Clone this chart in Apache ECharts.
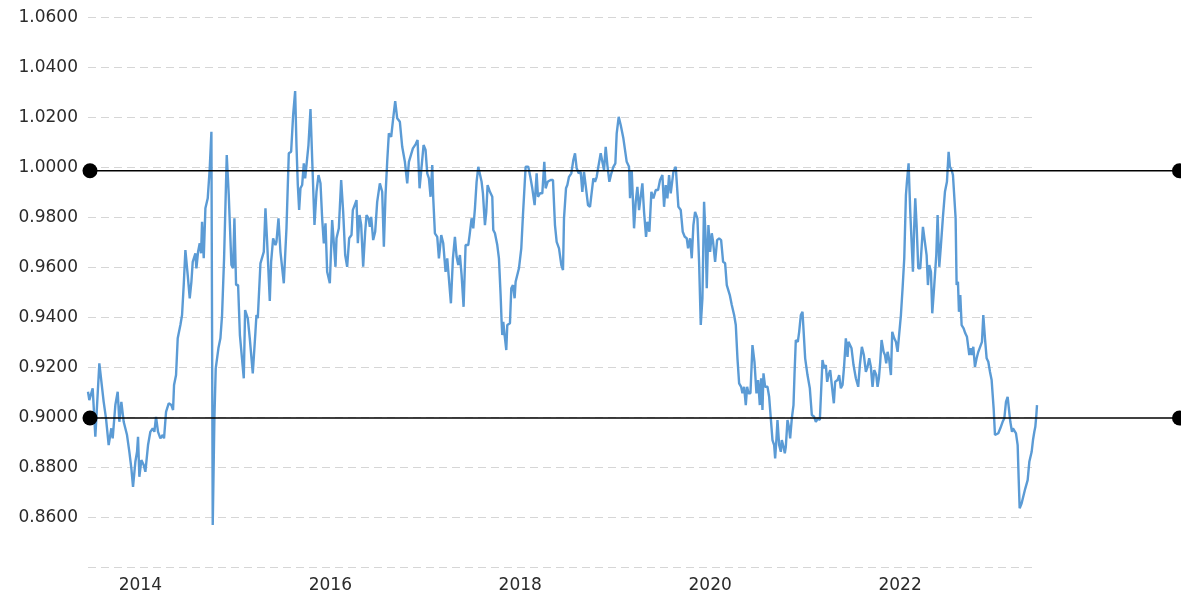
<!DOCTYPE html>
<html>
<head>
<meta charset="utf-8">
<script src="https://cdn.jsdelivr.net/npm/echarts@6.0.0/dist/echarts.min.js"></script>
<style>
  html, body { margin: 0; padding: 0; background: #ffffff; }
  #chart { width: 1181px; height: 598px; }
</style>
</head>
<body>
<div id="chart"></div>
<script>
// Time (decimal years) of each observation
const years = [
  2013.4485, 2013.4625, 2013.4977, 2013.5258, 2013.5679, 2013.6136, 2013.6381, 2013.6662, 2013.6943, 2013.7084,
  2013.7365, 2013.7611, 2013.7786, 2013.7997, 2013.8243, 2013.8594, 2013.8840, 2013.9051, 2013.9226, 2013.9472,
  2013.9648, 2013.9753, 2013.9893, 2014.0104, 2014.0350, 2014.0526, 2014.0807, 2014.1052, 2014.1298, 2014.1474,
  2014.1649, 2014.1860, 2014.2106, 2014.2352, 2014.2492, 2014.2703, 2014.2984, 2014.3265, 2014.3441, 2014.3546,
  2014.3757, 2014.3932, 2014.4213, 2014.4389, 2014.4564, 2014.4740, 2014.4986, 2014.5197, 2014.5372, 2014.5513,
  2014.5794, 2014.5899, 2014.6075, 2014.6250, 2014.6391, 2014.6496, 2014.6672, 2014.6847, 2014.7093, 2014.7304,
  2014.7479, 2014.7620, 2014.7795, 2014.7936, 2014.8217, 2014.8428, 2014.8603, 2014.8814, 2014.9095, 2014.9306,
  2014.9587, 2014.9762, 2014.9903, 2015.0078, 2015.0289, 2015.0480, 2015.0888, 2015.1029, 2015.1310, 2015.1520,
  2015.1836, 2015.2117, 2015.2223, 2015.2363, 2015.2644, 2015.2995, 2015.3171, 2015.3347, 2015.3628, 2015.3768,
  2015.3979, 2015.4225, 2015.4330, 2015.4541, 2015.4751, 2015.5103, 2015.5384, 2015.5629, 2015.5875, 2015.6086,
  2015.6297, 2015.6437, 2015.6578, 2015.6718, 2015.6859, 2015.7034, 2015.7210, 2015.7350, 2015.7491, 2015.7701,
  2015.7912, 2015.8088, 2015.8334, 2015.8544, 2015.8755, 2015.8966, 2015.9141, 2015.9317, 2015.9493, 2015.9668,
  2015.9949, 2016.0195, 2016.0371, 2016.0546, 2016.0652, 2016.0897, 2016.1143, 2016.1354, 2016.1565, 2016.1775,
  2016.1986, 2016.2232, 2016.2372, 2016.2548, 2016.2759, 2016.2899, 2016.3075, 2016.3250, 2016.3461, 2016.3672,
  2016.3812, 2016.4023, 2016.4164, 2016.4304, 2016.4515, 2016.4725, 2016.4936, 2016.5217, 2016.5463, 2016.5639,
  2016.5814, 2016.5990, 2016.6165, 2016.6411, 2016.6622, 2016.6833, 2016.7044, 2016.7324, 2016.7572, 2016.7853,
  2016.8099, 2016.8275, 2016.8450, 2016.8696, 2016.8977, 2016.9188, 2016.9399, 2016.9609, 2016.9820, 2017.0031,
  2017.0206, 2017.0382, 2017.0558, 2017.0733, 2017.0839, 2017.1014, 2017.1260, 2017.1436, 2017.1681, 2017.1892,
  2017.2138, 2017.2314, 2017.2489, 2017.2700, 2017.2911, 2017.3121, 2017.3297, 2017.3473, 2017.3648, 2017.3824,
  2017.4034, 2017.4245, 2017.4526, 2017.4667, 2017.4877, 2017.5053, 2017.5229, 2017.5404, 2017.5580, 2017.5720,
  2017.5931, 2017.6071, 2017.6282, 2017.6423, 2017.6563, 2017.6809, 2017.7055, 2017.7160, 2017.7336, 2017.7582,
  2017.7757, 2017.7933, 2017.8038, 2017.8108, 2017.8214, 2017.8354, 2017.8530, 2017.8635, 2017.8916, 2017.9057,
  2017.9232, 2017.9408, 2017.9513, 2017.9864, 2018.0110, 2018.0286, 2018.0461, 2018.0567, 2018.0848, 2018.1058,
  2018.1269, 2018.1515, 2018.1726, 2018.1866, 2018.2077, 2018.2323, 2018.2534, 2018.2674, 2018.2885, 2018.3201,
  2018.3447, 2018.3657, 2018.3835, 2018.4081, 2018.4327, 2018.4502, 2018.4608, 2018.4819, 2018.4959, 2018.5135,
  2018.5380, 2018.5591, 2018.5767, 2018.5942, 2018.6153, 2018.6364, 2018.6539, 2018.6715, 2018.6926, 2018.7136,
  2018.7347, 2018.7523, 2018.7698, 2018.7874, 2018.8050, 2018.8225, 2018.8471, 2018.8647, 2018.8822, 2018.8998,
  2018.9173, 2018.9384, 2018.9595, 2018.9806, 2019.0016, 2019.0157, 2019.0367, 2019.0578, 2019.0859, 2019.1000,
  2019.1210, 2019.1456, 2019.1562, 2019.1737, 2019.1983, 2019.2159, 2019.2334, 2019.2510, 2019.2685, 2019.2861,
  2019.3037, 2019.3247, 2019.3388, 2019.3599, 2019.3809, 2019.4020, 2019.4266, 2019.4512, 2019.4722, 2019.4968,
  2019.5144, 2019.5319, 2019.5495, 2019.5671, 2019.5846, 2019.6127, 2019.6373, 2019.6654, 2019.6900, 2019.7111,
  2019.7321, 2019.7532, 2019.7672, 2019.7883, 2019.8059, 2019.8234, 2019.8410, 2019.8656, 2019.8831, 2019.9007,
  2019.9183, 2019.9358, 2019.9534, 2019.9639, 2019.9815, 2019.9990, 2020.0028, 2020.0168, 2020.0309, 2020.0519,
  2020.0730, 2020.0941, 2020.1152, 2020.1362, 2020.1573, 2020.1749, 2020.1924, 2020.2065, 2020.2275, 2020.2521,
  2020.2697, 2020.2872, 2020.3048, 2020.3259, 2020.3399, 2020.3575, 2020.3750, 2020.3891, 2020.4031, 2020.4242,
  2020.4453, 2020.4664, 2020.4874, 2020.5050, 2020.5225, 2020.5366, 2020.5506, 2020.5612, 2020.5787, 2020.6033,
  2020.6209, 2020.6384, 2020.6560, 2020.6736, 2020.6841, 2020.6981, 2020.7087, 2020.7262, 2020.7438, 2020.7543,
  2020.7719, 2020.7859, 2020.7965, 2020.8140, 2020.8316, 2020.8421, 2020.8597, 2020.8773, 2020.8878, 2020.9018,
  2020.9229, 2020.9370, 2020.9545, 2020.9721, 2020.9861, 2021.0002, 2021.0248, 2021.0493, 2021.0704, 2021.0950,
  2021.1126, 2021.1336, 2021.1547, 2021.1688, 2021.1828, 2021.2004, 2021.2179, 2021.2320, 2021.2460, 2021.2636,
  2021.2811, 2021.3022, 2021.3163, 2021.3408, 2021.3584, 2021.3760, 2021.3935, 2021.4111, 2021.4286, 2021.4462,
  2021.4567, 2021.4708, 2021.4883, 2021.5094, 2021.5340, 2021.5586, 2021.5761, 2021.5972, 2021.6183, 2021.6394,
  2021.6569, 2021.6745, 2021.6920, 2021.7096, 2021.7272, 2021.7486, 2021.7626, 2021.7767, 2021.7907, 2021.8048,
  2021.8259, 2021.8399, 2021.8540, 2021.8680, 2021.8856, 2021.9031, 2021.9172, 2021.9382, 2021.9558, 2021.9734,
  2021.9909, 2022.0085, 2022.0260, 2022.0436, 2022.0612, 2022.0717, 2022.0893, 2022.1068, 2022.1209, 2022.1349,
  2022.1490, 2022.1595, 2022.1735, 2022.1911, 2022.2122, 2022.2262, 2022.2403, 2022.2613, 2022.2789, 2022.2930,
  2022.3070, 2022.3246, 2022.3386, 2022.3597, 2022.3808, 2022.3948, 2022.4124, 2022.4299, 2022.4510, 2022.4721,
  2022.4931, 2022.5107, 2022.5247, 2022.5423, 2022.5564, 2022.5704, 2022.5844, 2022.5950, 2022.6090, 2022.6196,
  2022.6336, 2022.6477, 2022.6687, 2022.6863, 2022.7039, 2022.7109, 2022.7284, 2022.7425, 2022.7565, 2022.7706,
  2022.7881, 2022.8057, 2022.8233, 2022.8443, 2022.8619, 2022.8759, 2022.8935, 2022.9111, 2022.9286, 2022.9462,
  2022.9637, 2022.9848, 2022.9989, 2023.0164, 2023.0340, 2023.0551, 2023.0796, 2023.0972, 2023.1148, 2023.1323,
  2023.1464, 2023.1604, 2023.1780, 2023.1885, 2023.2061, 2023.2201, 2023.2377, 2023.2482, 2023.2588, 2023.2798,
  2023.3009, 2023.3185, 2023.3430, 2023.3606, 2023.3852, 2023.3992, 2023.4133, 2023.4238, 2023.4344, 2023.4414
];

// Exchange rate values
const rate = [
  0.9102, 0.9069, 0.9116, 0.8922, 0.9216, 0.9062, 0.8996, 0.8889, 0.8956, 0.8916,
  0.9049, 0.9102, 0.8982, 0.9062, 0.8982, 0.8929, 0.8862, 0.8796, 0.8722, 0.8822,
  0.8862, 0.8922, 0.8762, 0.8829, 0.8809, 0.8782, 0.8889, 0.8942, 0.8956, 0.8942,
  0.9002, 0.8942, 0.8916, 0.8929, 0.8916, 0.9022, 0.9056, 0.9049, 0.9029, 0.9129,
  0.9169, 0.9316, 0.9369, 0.9409, 0.9529, 0.9669, 0.9569, 0.9476, 0.9542, 0.9622,
  0.9656, 0.9596, 0.9662, 0.9696, 0.9656, 0.9782, 0.9636, 0.9836, 0.9876, 0.9996,
  1.0142, 0.8569, 0.8996, 0.9196, 0.9276, 0.9316, 0.9409, 0.9636, 1.0049, 0.9889,
  0.9609, 0.9596, 0.9796, 0.9529, 0.9529, 0.9329, 0.9156, 0.9429, 0.9396, 0.9316,
  0.9176, 0.9342, 0.9409, 0.9396, 0.9616, 0.9662, 0.9836, 0.9702, 0.9465, 0.9622,
  0.9716, 0.9689, 0.9702, 0.9796, 0.9662, 0.9536, 0.9756, 1.0056, 1.0062, 1.0209,
  1.0305, 1.0089, 0.9929, 0.9829, 0.9916, 0.9929, 1.0016, 0.9956, 1.0009, 1.0089,
  1.0233, 1.0036, 0.9769, 0.9902, 0.9969, 0.9936, 0.9796, 0.9696, 0.9776, 0.9582,
  0.9536, 0.9789, 0.9696, 0.9602, 0.9716, 0.9756, 0.9949, 0.9822, 0.9649, 0.9602,
  0.9716, 0.9729, 0.9829, 0.9836, 0.9869, 0.9696, 0.9809, 0.9769, 0.9602, 0.9742,
  0.9809, 0.9796, 0.9762, 0.9802, 0.9709, 0.9742, 0.9862, 0.9936, 0.9902, 0.9682,
  0.9889, 1.0022, 1.0136, 1.0122, 1.0196, 1.0265, 1.0196, 1.0182, 1.0082, 1.0022,
  0.9936, 1.0022, 1.0029, 1.0076, 1.0092, 1.0109, 0.9916, 1.0002, 1.0089, 1.0069,
  0.9976, 0.9956, 0.9882, 1.0009, 0.9876, 0.9736, 0.9722, 0.9636, 0.9729, 0.9696,
  0.9582, 0.9636, 0.9629, 0.9456, 0.9636, 0.9722, 0.9642, 0.9609, 0.9649, 0.9569,
  0.9442, 0.9689, 0.9689, 0.9729, 0.9796, 0.9756, 0.9836, 0.9942, 1.0002, 1.0009,
  0.9942, 0.9896, 0.9769, 0.9822, 0.9929, 0.9902, 0.9882, 0.9749, 0.9736, 0.9689,
  0.9636, 0.9489, 0.9382, 0.9329, 0.9382, 0.9329, 0.9269, 0.9369, 0.9376, 0.9516,
  0.9529, 0.9476, 0.9542, 0.9596, 0.9676, 0.9809, 0.9929, 1.0002, 1.0002, 0.9962,
  0.9916, 0.9849, 0.9976, 0.9882, 0.9896, 0.9896, 1.0022, 0.9916, 0.9942, 0.9949,
  0.9949, 0.9769, 0.9702, 0.9676, 0.9609, 0.9589, 0.9796, 0.9916, 0.9929, 0.9962,
  0.9976, 1.0029, 1.0056, 0.9996, 0.9976, 0.9982, 0.9902, 0.9982, 0.9916, 0.9849,
  0.9842, 0.9849, 0.9956, 0.9942, 0.9962, 1.0002, 1.0056, 1.0022, 0.9989, 1.0082,
  1.0009, 0.9942, 0.9976, 1.0002, 1.0016, 1.0136, 1.0202, 1.0169, 1.0116, 1.0109,
  1.0022, 1.0002, 0.9876, 0.9989, 0.9756, 0.9862, 0.9922, 0.9829, 0.9829, 0.9936,
  0.9822, 0.9722, 0.9782, 0.9742, 0.9902, 0.9876, 0.9909, 0.9909, 0.9949, 0.9969,
  0.9842, 0.9929, 0.9876, 0.9969, 0.9896, 0.9982, 1.0002, 0.9842, 0.9829, 0.9742,
  0.9722, 0.9716, 0.9676, 0.9716, 0.9636, 0.9769, 0.9822, 0.9796, 0.9622, 0.9369,
  0.9476, 0.9862, 0.9702, 0.9516, 0.9769, 0.9662, 0.9676, 0.9736, 0.9702, 0.9622,
  0.9709, 0.9716, 0.9709, 0.9622, 0.9616, 0.9529, 0.9522, 0.9489, 0.9449, 0.9409,
  0.9369, 0.9236, 0.9136, 0.9122, 0.9096, 0.9122, 0.9049, 0.9122, 0.9096, 0.9096,
  0.9289, 0.9222, 0.9096, 0.9149, 0.9049, 0.9156, 0.9029, 0.9176, 0.9122, 0.9122,
  0.9082, 0.8996, 0.8909, 0.8889, 0.8836, 0.8916, 0.8989, 0.8889, 0.8862, 0.8909,
  0.8882, 0.8856, 0.8882, 0.8989, 0.8956, 0.8916, 0.8996, 0.9049, 0.9169, 0.9309,
  0.9302, 0.9342, 0.9409, 0.9422, 0.9429, 0.9236, 0.9169, 0.9116, 0.9009, 0.9002,
  0.8982, 0.8996, 0.8989, 0.8989, 0.9229, 0.9196, 0.9209, 0.9142, 0.9169, 0.9189,
  0.9189, 0.9056, 0.9142, 0.9149, 0.9169, 0.9116, 0.9129, 0.9209, 0.9316, 0.9242,
  0.9302, 0.9302, 0.9276, 0.9209, 0.9156, 0.9122, 0.9209, 0.9282, 0.9249, 0.9182,
  0.9202, 0.9236, 0.9202, 0.9122, 0.9189, 0.9169, 0.9122, 0.9156, 0.9222, 0.9309,
  0.9262, 0.9249, 0.9216, 0.9262, 0.9229, 0.9169, 0.9342, 0.9316, 0.9302, 0.9262,
  0.9336, 0.9409, 0.9516, 0.9636, 0.9889, 0.9942, 1.0016, 0.9822, 0.9702, 0.9582,
  0.9769, 0.9876, 0.9769, 0.9596, 0.9596, 0.9589, 0.9762, 0.9762, 0.9649, 0.9529,
  0.9609, 0.9582, 0.9416, 0.9529, 0.9649, 0.9809, 0.9602, 0.9689, 0.9802, 0.9902,
  0.9942, 1.0062, 1.0002, 0.9989, 0.9969, 0.9976, 0.9796, 0.9529, 0.9542, 0.9422,
  0.9489, 0.9369, 0.9356, 0.9336, 0.9322, 0.9316, 0.9249, 0.9276, 0.9249, 0.9282,
  0.9202, 0.9236, 0.9262, 0.9262, 0.9302, 0.9409, 0.9316, 0.9236, 0.9222, 0.9182,
  0.9149, 0.9036, 0.8929, 0.8929, 0.8936, 0.8956, 0.8982, 0.8996, 0.9062, 0.9082,
  0.9089, 0.8982, 0.8942, 0.8956, 0.8962, 0.8936, 0.8889, 0.8756, 0.8636, 0.8656,
  0.8689, 0.8716, 0.8749, 0.8822, 0.8862, 0.8909, 0.8942, 0.8962, 0.9009, 0.9049
];

// Horizontal reference levels (drawn with end dots)
const refLevels = [0.9986, 0.8997];

// Axis ticks
const xTickYears = [2014, 2016, 2018, 2020, 2022];
const yMin = 0.84, yMax = 1.06, yStep = 0.02;

const seriesData = years.map((y, i) => [y, rate[i]]);

const labelFont = { fontFamily: 'DejaVu Sans', fontSize: 17, color: '#2b2b2b' };
const plotTop = 17.3, plotBottom = 30.7;

const chart = echarts.init(document.getElementById('chart'), null, { renderer: 'canvas' });

const refSeries = refLevels.map(v => ({
  type: 'line',
  xAxisIndex: 1,
  yAxisIndex: 1,
  data: [[0, v], [1, v]],
  symbol: 'circle',
  symbolSize: 15,
  showSymbol: true,
  clip: false,
  silent: true,
  z: 5,
  itemStyle: { color: '#000000' },
  lineStyle: { color: '#000000', width: 1.5 }
}));

chart.setOption({
  animation: false,
  backgroundColor: '#ffffff',
  grid: [
    { left: 88, right: 144, top: plotTop, bottom: plotBottom, containLabel: false },
    { left: 90, right: 1.5, top: plotTop, bottom: plotBottom, containLabel: false }
  ],
  xAxis: [
    {
      type: 'value',
      gridIndex: 0,
      min: 'dataMin',
      max: 'dataMax',
      axisLine: { show: false },
      axisTick: { show: false },
      splitLine: { show: false },
      axisLabel: Object.assign({
        customValues: xTickYears,
        formatter: v => String(Math.round(v)),
        margin: 10
      }, labelFont)
    },
    { type: 'value', gridIndex: 1, min: 0, max: 1, show: false }
  ],
  yAxis: [
    {
      type: 'value',
      gridIndex: 0,
      min: yMin,
      max: yMax,
      interval: yStep,
      axisLine: { show: false },
      axisTick: { show: false },
      splitLine: { show: true, lineStyle: { color: '#d6d6d6', width: 1, type: [8, 5] } },
      axisLabel: Object.assign({
        formatter: v => v.toFixed(4),
        showMinLabel: false,
        margin: 10
      }, labelFont)
    },
    { type: 'value', gridIndex: 1, min: yMin, max: yMax, show: false }
  ],
  series: [
    {
      type: 'line',
      xAxisIndex: 0,
      yAxisIndex: 0,
      data: seriesData,
      showSymbol: false,
      symbol: 'none',
      z: 2,
      lineStyle: { color: '#5B9BD5', width: 2.4 },
      itemStyle: { color: '#5B9BD5' }
    }
  ].concat(refSeries)
});
</script>
</body>
</html>
